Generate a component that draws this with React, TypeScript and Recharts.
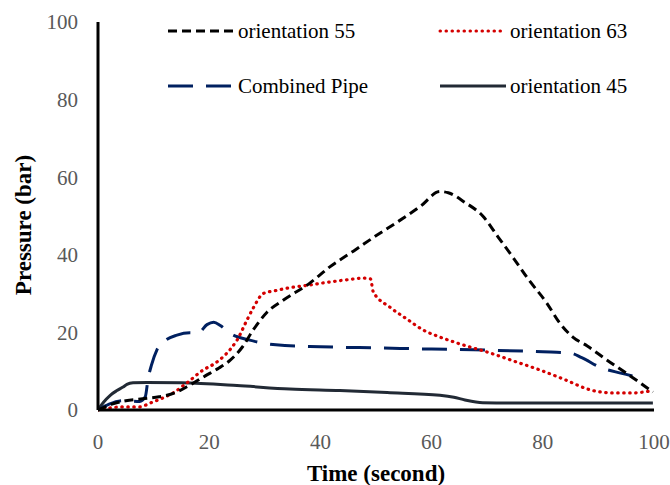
import React from 'react';
import { LineChart, Line, XAxis, YAxis } from 'recharts';

// Time (s) and pressure (bar) for each series
const orient55T = [0, 2.5, 5, 8, 11, 13.8, 16.5, 19.3, 21.5, 23.5, 26, 27.9, 30.4, 33.3, 38.1, 41.7, 46, 50.2, 54, 58, 61.5, 63, 66, 69.2, 72, 74.6, 77.5, 80.7, 83, 85.4, 88, 91.5, 95, 97.5, 99.8];
const orient55P = [0, 1.5, 2.4, 2.9, 3.4, 4.4, 6.4, 8.8, 10.6, 12.5, 16.3, 20.6, 25.2, 28.3, 32.7, 36.9, 41, 45.1, 48.6, 52.5, 56.3, 56, 53.5, 50, 44.5, 39.4, 33.5, 27.6, 22.5, 18.8, 16.5, 12.9, 9.5, 7, 4.6];

const orient63T = [0, 2, 4.5, 7.5, 9.4, 11.5, 13.5, 16, 18.9, 21, 22.5, 24, 25, 26.8, 28, 29.7, 32, 34, 38, 41.7, 45, 47.7, 49, 49.5, 52.5, 55.5, 58.5, 61.5, 64.5, 70.5, 75, 79.5, 84, 88.5, 92.6, 96, 99.8];
const orient63P = [0, 0.5, 0.8, 0.8, 1.8, 3, 4.4, 7, 10.3, 12, 13.7, 16, 18, 23.2, 26.5, 30, 30.8, 31.4, 32.2, 33, 33.6, 34, 33.8, 30.5, 26.5, 23.5, 20.6, 18.8, 17.3, 14.7, 12.5, 10.3, 7.8, 5.2, 4.4, 4.4, 5];

const combinedT = [0, 2, 4.5, 7.5, 8.5, 9, 9.6, 10.6, 12, 14.2, 16.5, 18, 19.6, 20.8, 22, 23.7, 27.3, 32, 40, 50, 60, 67.5, 80, 84.9, 87, 90.3, 94, 98];
const combinedP = [0, 1.5, 2.4, 2.2, 3.4, 8, 11.5, 15.5, 17.8, 19.3, 19.9, 19.8, 22, 22.6, 21.8, 19.8, 18, 16.8, 16.3, 16, 15.7, 15.5, 15, 14.7, 13.5, 11, 9.5, 8.2];

const orient45T = [0, 1, 2.2, 3.4, 4.5, 5.2, 6.3, 8.8, 15, 25, 34.5, 43.5, 52, 61.5, 64, 66, 69.2, 75, 85, 99.8];
const orient45P = [0, 2, 3.8, 5, 5.9, 6.6, 7, 7.1, 7, 6.3, 5.4, 5, 4.5, 3.8, 3.3, 2.6, 1.9, 1.8, 1.8, 1.8];

const xTicks = [0, 20, 40, 60, 80, 100];
const yTicks = [0, 20, 40, 60, 80, 100];

const seriesNames = ['orientation 55', 'orientation 63', 'Combined Pipe', 'orientation 45'];

const zip = (t: number[], p: number[]) => t.map((v, i) => ({ t: v, p: p[i] }));

const data55 = zip(orient55T, orient55P);
const data63 = zip(orient63T, orient63P);
const dataComb = zip(combinedT, combinedP);
const data45 = zip(orient45T, orient45P);

const FONT = '"Liberation Serif", "Times New Roman", serif';
const C55 = '#000000';
const C63 = '#d40000';
const CCOMB = '#002060';
const C45 = '#222a35';

const styles = [
  { color: C55, dash: '9 5', cap: 'butt' as const },
  { color: C63, dash: '0.5 5.5', cap: 'round' as const },
  { color: CCOMB, dash: '25 13', cap: 'butt' as const },
  { color: C45, dash: undefined, cap: 'butt' as const },
];

const legendPos = [
  { x: 168, y: 31 },
  { x: 440, y: 31 },
  { x: 168, y: 86 },
  { x: 440, y: 86 },
];

function LegendOverlay() {
  return (
    <svg width={670} height={110} style={{ position: 'absolute', left: 0, top: 0, pointerEvents: 'none' }}>
      {seriesNames.map((name, i) => {
        const p = legendPos[i];
        const s = styles[i];
        return (
          <g key={name}>
            <line x1={p.x} y1={p.y} x2={p.x + 66} y2={p.y} stroke={s.color} strokeWidth={3} strokeDasharray={s.dash} strokeLinecap={s.cap} />
            <text x={p.x + 70} y={p.y} dominantBaseline="central" fontFamily={FONT} fontSize={21} fill="#000">{name}</text>
          </g>
        );
      })}
    </svg>
  );
}

export default function App() {
  return (
    <div style={{ position: 'absolute', left: 0, top: 0, width: 670, height: 485, background: '#fff' }}>
      <LineChart width={670} height={485} margin={{ top: 22, right: 16, bottom: 0, left: 0 }}>
        <XAxis
          type="number"
          dataKey="t"
          domain={[0, 100]}
          ticks={xTicks}
          allowDataOverflow
          height={75}
          tickSize={0}
          tickMargin={24}
          axisLine={{ stroke: '#000', strokeWidth: 3 }}
          tick={{ fill: '#595959', fontSize: 21, fontFamily: FONT }}
          label={(props: any) => (
            <text x={376} y={473} textAnchor="middle" dominantBaseline="central" fontFamily={FONT} fontWeight="bold" fontSize={23} fill="#000">Time (second)</text>
          )}
        />
        <YAxis
          type="number"
          domain={[0, 100]}
          ticks={yTicks}
          width={98}
          tickSize={0}
          tickMargin={20}
          axisLine={{ stroke: '#000', strokeWidth: 3 }}
          tick={{ fill: '#595959', fontSize: 21, fontFamily: FONT }}
          label={(props: any) => (
            <text x={23} y={225} transform="rotate(-90, 23, 225)" textAnchor="middle" dominantBaseline="central" fontFamily={FONT} fontWeight="bold" fontSize={23} fill="#000">Pressure (bar)</text>
          )}
        />
        <Line data={data45} dataKey="p" type="monotone" stroke={C45} strokeWidth={3} dot={false} isAnimationActive={false} />
        <Line data={dataComb} dataKey="p" type="monotone" stroke={CCOMB} strokeWidth={3} strokeDasharray="25 13" dot={false} isAnimationActive={false} />
        <Line data={data63} dataKey="p" type="monotone" stroke={C63} strokeWidth={3.2} strokeDasharray="0.5 5.5" strokeLinecap="round" dot={false} isAnimationActive={false} />
        <Line data={data55} dataKey="p" type="monotone" stroke={C55} strokeWidth={3} strokeDasharray="9 5" dot={false} isAnimationActive={false} />
      </LineChart>
      <LegendOverlay />
    </div>
  );
}
